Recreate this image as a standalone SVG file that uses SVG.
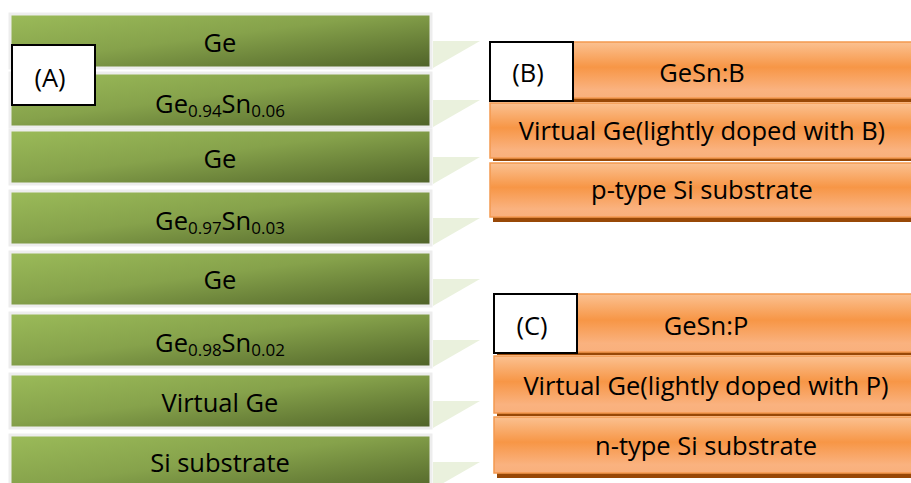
<svg xmlns="http://www.w3.org/2000/svg" width="911" height="483" viewBox="0 0 911 483">
<defs>
<linearGradient id="gGreen" x1="0" y1="0" x2="1" y2="1">
<stop offset="0" stop-color="#9bbb59"/>
<stop offset="0.45" stop-color="#86a24b"/>
<stop offset="1" stop-color="#4f6228"/>
</linearGradient>
<linearGradient id="gOrange" x1="0" y1="0" x2="0" y2="1">
<stop offset="0" stop-color="#fbc191"/>
<stop offset="0.45" stop-color="#f79646"/>
<stop offset="0.85" stop-color="#fab27f"/>
<stop offset="1" stop-color="#f9b07c"/>
</linearGradient>
</defs>
<style>
.g{fill:url(#gGreen);stroke:#ededed;stroke-width:3}
.tri{fill:#eaf1dd}
.o{fill:url(#gOrange);stroke:#f4994f;stroke-width:1.5}
.sh{fill:#984807}
.box{fill:#ffffff;stroke:#000000;stroke-width:2}
text{font-family:"Open Sans",Lato,"Liberation Sans",sans-serif;font-size:25.5px;fill:#000000;text-anchor:middle}
.sub{font-size:17px}
</style>
<rect width="911" height="483" fill="#ffffff"/>
<g id="stackA">
<g id="a1"><polygon class="tri" points="433,41 480,41 433,68"/><rect class="g" x="10" y="14" width="421" height="54"/><text x="220" y="52">Ge</text></g>
<g id="a2"><polygon class="tri" points="433,100 480,100 433,127"/><rect class="g" x="10" y="73" width="421" height="54"/><text x="220" y="113">Ge<tspan class="sub" dy="4">0.94</tspan><tspan dy="-4">Sn</tspan><tspan class="sub" dy="4">0.06</tspan></text></g>
<g id="a3"><polygon class="tri" points="433,157 480,157 433,184"/><rect class="g" x="10" y="130" width="421" height="54"/><text x="220" y="168">Ge</text></g>
<g id="a4"><polygon class="tri" points="433,218 480,218 433,245"/><rect class="g" x="10" y="191" width="421" height="54"/><text x="220" y="230">Ge<tspan class="sub" dy="4">0.97</tspan><tspan dy="-4">Sn</tspan><tspan class="sub" dy="4">0.03</tspan></text></g>
<g id="a5"><polygon class="tri" points="433,279 480,279 433,306"/><rect class="g" x="10" y="252" width="421" height="54"/><text x="220" y="289">Ge</text></g>
<g id="a6"><polygon class="tri" points="433,340 480,340 433,367"/><rect class="g" x="10" y="313" width="421" height="54"/><text x="220" y="352">Ge<tspan class="sub" dy="4">0.98</tspan><tspan dy="-4">Sn</tspan><tspan class="sub" dy="4">0.02</tspan></text></g>
<g id="a7"><polygon class="tri" points="433,401 480,401 433,428"/><rect class="g" x="10" y="374" width="421" height="54"/><text x="220" y="412">Virtual Ge</text></g>
<g id="a8"><polygon class="tri" points="433,462 480,462 433,489"/><rect class="g" x="10" y="435" width="421" height="60"/><text x="220" y="472">Si substrate</text></g>
<g id="labelA"><rect class="box" x="12" y="45" width="83" height="60"/><text x="50" y="87">(A)</text></g>
</g>
<g id="stackB">
<g id="b1"><rect class="sh" x="493" y="46" width="430" height="56"/><rect class="o" x="490" y="42" width="430" height="56"/><text x="702" y="82">GeSn:B</text></g>
<g id="b2"><rect class="sh" x="493" y="107" width="430" height="54"/><rect class="o" x="490" y="103" width="430" height="55"/><text x="702" y="140">Virtual Ge(lightly doped with B)</text></g>
<g id="b3"><rect class="sh" x="493" y="167" width="430" height="55"/><rect class="o" x="490" y="163" width="430" height="54"/><text x="702" y="199">p-type Si substrate</text></g>
<g id="labelB"><rect class="box" x="490" y="42" width="83" height="59"/><text x="528" y="82">(B)</text></g>
</g>
<g id="stackC">
<g id="c1"><rect class="sh" x="497" y="298" width="430" height="57"/><rect class="o" x="494" y="294" width="430" height="58"/><text x="706" y="335">GeSn:P</text></g>
<g id="c2"><rect class="sh" x="497" y="360" width="430" height="56"/><rect class="o" x="494" y="356" width="430" height="57"/><text x="706" y="395">Virtual Ge(lightly doped with P)</text></g>
<g id="c3"><rect class="sh" x="497" y="421" width="430" height="57"/><rect class="o" x="494" y="417" width="430" height="56"/><text x="706" y="455">n-type Si substrate</text></g>
<g id="labelC"><rect class="box" x="494" y="294" width="83" height="59"/><text x="532" y="335">(C)</text></g>
</g>
<g id="connectors"/>
</svg>
